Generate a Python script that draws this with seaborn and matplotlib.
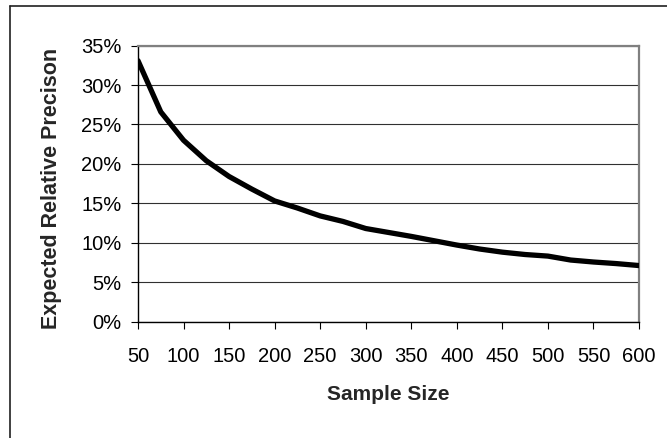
import matplotlib
matplotlib.use("Agg")
import matplotlib.pyplot as plt
import seaborn as sns
import pandas as pd
from matplotlib.ticker import FuncFormatter, MultipleLocator
from matplotlib.lines import Line2D

sample_size = [50, 75, 100, 125, 150, 175, 200, 225, 250, 275, 300, 325,
               350, 375, 400, 425, 450, 475, 500, 525, 550, 575, 600]
precision = [0.331, 0.266, 0.230, 0.204, 0.184, 0.168, 0.153, 0.144, 0.134,
             0.127, 0.118, 0.113, 0.108, 0.1025, 0.097, 0.092, 0.088, 0.085,
             0.083, 0.078, 0.0755, 0.0735, 0.071]
x_ticks = [50, 100, 150, 200, 250, 300, 350, 400, 450, 500, 550, 600]
x_label = "Sample Size"
y_label = "Expected Relative Precison"

df = pd.DataFrame({"n": sample_size, "p": precision})

sns.set_theme(style="white")
plt.rcParams['font.family'] = ['Liberation Sans', 'DejaVu Sans']

fig = plt.figure(figsize=(6.67, 4.38), dpi=100)
ax = fig.add_axes([138/667, 1 - 321.5/438, (639 - 138)/667, (321.5 - 45.7)/438])

sns.lineplot(data=df, x="n", y="p", ax=ax, color="black", linewidth=3.8,
             solid_capstyle="round", solid_joinstyle="round", zorder=3)

ax.set_xlim(50, 600)
ax.set_ylim(0, 0.35)
ax.set_xticks(x_ticks)
ax.yaxis.set_major_locator(MultipleLocator(0.05))
ax.yaxis.set_major_formatter(FuncFormatter(lambda v, _: f"{v*100:.0f}%"))
ax.grid(axis="y", color="#303030", linewidth=0.8)
ax.grid(axis="x", visible=False)

ax.tick_params(axis="both", which="major", labelsize=14.5, colors="black",
               length=5, width=0.8, direction="out")
ax.tick_params(axis="y", pad=7)
ax.tick_params(axis="x", pad=13)
ax.tick_params(left=True, bottom=True)

for side in ["left", "bottom"]:
    ax.spines[side].set_color("black")
    ax.spines[side].set_linewidth(1.0)
for side in ["top", "right"]:
    ax.spines[side].set_visible(True)
    ax.spines[side].set_color("#808080")
    ax.spines[side].set_linewidth(1.6)

ax.set_xlabel(x_label, fontsize=15, fontweight="bold")
ax.set_ylabel(y_label, fontsize=15.5, fontweight="bold")
ax.xaxis.set_label_coords(0.5, (321.5 - 395) / (321.5 - 45.7), transform=ax.transAxes)
ax.yaxis.set_label_coords((52 - 138) / (639 - 138), (321.5 - 188) / (321.5 - 45.7), transform=ax.transAxes)
ax.xaxis.label.set_va("center")
ax.yaxis.label.set_va("center")

# outer chart border
fig.add_artist(Line2D([10/667, 10/667], [0, 1 - 6/438], transform=fig.transFigure,
                      color="#202020", linewidth=1.2))
fig.add_artist(Line2D([10/667, 1], [1 - 6/438, 1 - 6/438], transform=fig.transFigure,
                      color="#202020", linewidth=1.2))

fig.savefig("out.png", dpi=100)
